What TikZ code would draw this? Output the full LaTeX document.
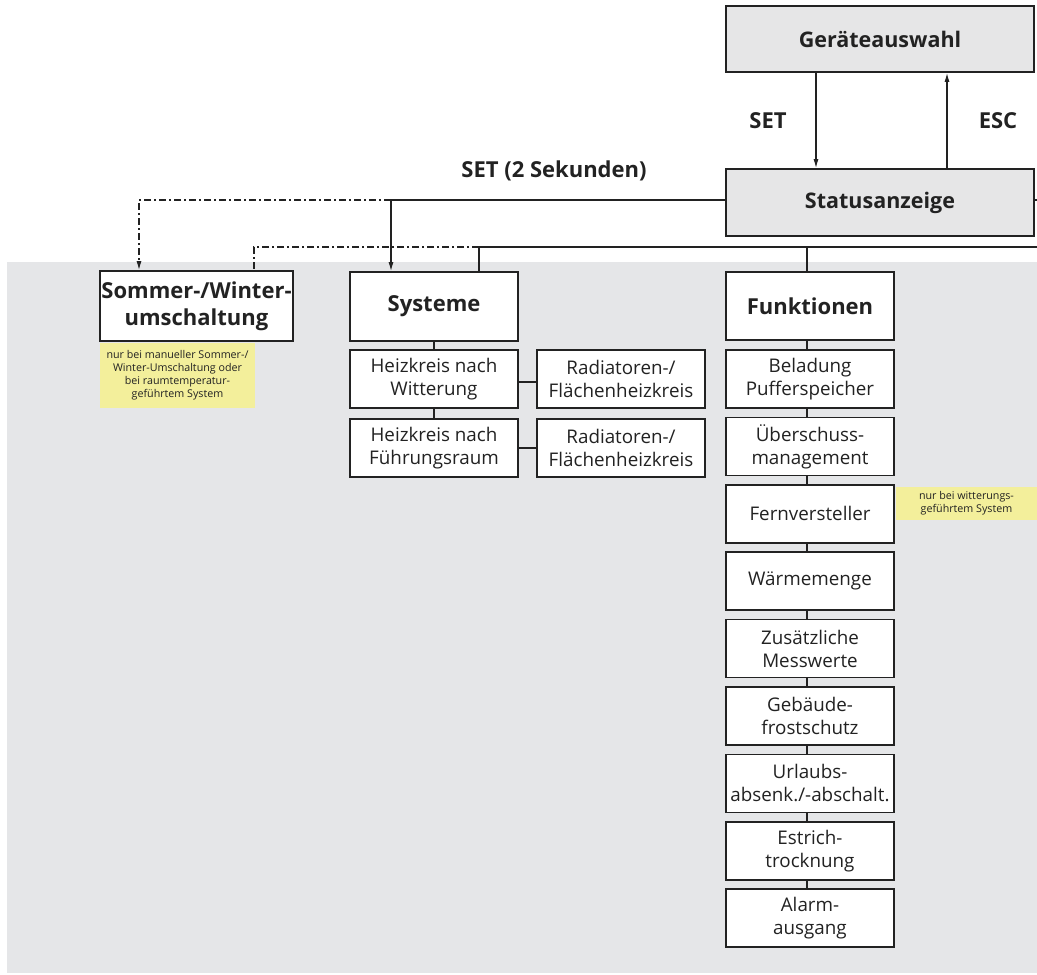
\documentclass[tikz,border=0pt]{standalone}
\usepackage{fontspec}
\setmainfont{Open Sans}
\usetikzlibrary{arrows.meta}
\definecolor{bggrey}{HTML}{E5E6E8}
\definecolor{headgrey}{HTML}{E6E6E7}
\definecolor{noteyellow}{HTML}{F3EF9B}
\definecolor{ink}{HTML}{222222}
\tikzset{
  box/.style={draw=ink, line width=1.6pt, fill=white, inner sep=0pt, align=center,
    text=ink, font=\fontsize{18.8}{23}\selectfont, minimum width=168pt, minimum height=58pt},
  headbox/.style={box, font=\bfseries\fontsize{22}{26}\selectfont},
  topbox/.style={box, fill=headgrey, minimum width=308pt, minimum height=66pt,
    font=\bfseries\fontsize{21.5}{25}\selectfont},
  note/.style={fill=noteyellow, inner sep=0pt, align=center, text=ink,
    font=\fontsize{10.7}{13}\selectfont},
  lbl/.style={text=ink, font=\bfseries\fontsize{22}{26}\selectfont},
  conn/.style={draw=ink, line width=1.3pt},
  dashdot/.style={conn, dash pattern=on 7pt off 3pt on 2pt off 3pt},
  arr/.style={-{Latex[length=9pt,width=5pt]}}
}
\begin{document}
\begin{tikzpicture}[x=1pt,y=-1pt]
\useasboundingbox (0,0) rectangle (1037,975);
\fill[bggrey] (7,262) rectangle (1037,973);

% top boxes
\node[topbox] (ger) at (880,39) {Geräteauswahl};
\node[topbox, minimum height=67pt] (stat) at (880,202.5) {Statusanzeige};
\node[lbl] (setl) at (768,121) {SET};
\node[lbl] (escl) at (998,121) {ESC};
\node[lbl, font=\bfseries\fontsize{22}{26}\selectfont] (set2) at (554,171) {SET (2 Sekunden)};

\draw[conn, arr] ([xshift=-64pt]ger.south) -- ([xshift=-64pt]stat.north);
\draw[conn, arr] ([xshift=67pt]stat.north) -- ([xshift=67pt]ger.south);

% level 1
\node[headbox, minimum width=193pt, minimum height=70pt, font=\bfseries\fontsize{22}{27}\selectfont] (som) at (196.5,306) {Sommer-/Winter-\\umschaltung};
\node[headbox, minimum height=69pt] (sys) at (434,306.5) {Systeme};
\node[headbox, minimum height=68pt] (fun) at (810,306) {Funktionen};

\node[note, minimum width=155pt, minimum height=65pt] (n1) at (177.5,375.5)
  {nur bei manueller Sommer-/\\Winter-Umschaltung oder\\bei raumtemperatur-\\geführtem System};

% connectors from Statusanzeige
\coordinate (j1) at (391,200);
\coordinate (c1) at (139,200);
\coordinate (re1) at (1037,200);
\draw[conn] ([yshift=2.5pt]stat.west) -- (j1);
\draw[conn, arr] (j1) -- (j1 |- sys.north);
\draw[dashdot, arr] (j1) -- (c1) -- (c1 |- som.north);
\draw[conn] ([yshift=2.5pt]stat.east) -- (re1);

\coordinate (j2) at (479,247);
\coordinate (c2) at (254,247);
\coordinate (r2) at (1037,247);
\draw[conn] (r2) -- (j2) -- (j2 |- sys.north);
\draw[dashdot] (j2) -- (c2) -- (c2 |- som.north);
\draw[conn] ([xshift=-3pt]fun.north) -- ([xshift=-3pt]fun.north |- j2);

% Systeme branch
\node[box] (hw) at (434,379) {Heizkreis nach\\Witterung};
\node[box] (hf) at (434,448) {Heizkreis nach\\Führungsraum};
\node[box] (rw) at (621,379) {Radiatoren-/\\Flächenheizkreis};
\node[box] (rf) at (621,448) {Radiatoren-/\\Flächenheizkreis};
\draw[conn] (sys.south) -- (hw.north);
\draw[conn] (hw.south) -- (hf.north);
\draw[conn] ([yshift=-3pt]hw.east) -- ([yshift=-3pt]hw.east -| rw.west);
\draw[conn] (hf.east) -- (rf.west);

% Funktionen branch
\node[box] (f1) at (810,379) {Beladung\\Pufferspeicher};
\node[box] (f2) at (810,446.4) {Überschuss-\\management};
\node[box] (f3) at (810,513.8) {Fernversteller};
\node[box] (f4) at (810,581.2) {Wärmemenge};
\node[box] (f5) at (810,648.6) {Zusätzliche\\Messwerte};
\node[box] (f6) at (810,716) {Gebäude-\\frostschutz};
\node[box] (f7) at (810,783.4) {Urlaubs-\\absenk./-abschalt.};
\node[box] (f8) at (810,850.8) {Estrich-\\trocknung};
\node[box] (f9) at (810,918.2) {Alarm-\\ausgang};
\draw[conn] ([xshift=-3pt]fun.south) -- ([xshift=-3pt]f1.north);
\foreach \a/\b in {f1/f2,f2/f3,f3/f4,f4/f5,f5/f6,f6/f7,f7/f8,f8/f9}
  \draw[conn] ([xshift=-3pt]\a.south) -- ([xshift=-3pt]\b.north);

\node[note, minimum width=141pt, minimum height=33pt] (n2) at (966.5,503.5)
  {nur bei witterungs-\\geführtem System};
\end{tikzpicture}
\end{document}
